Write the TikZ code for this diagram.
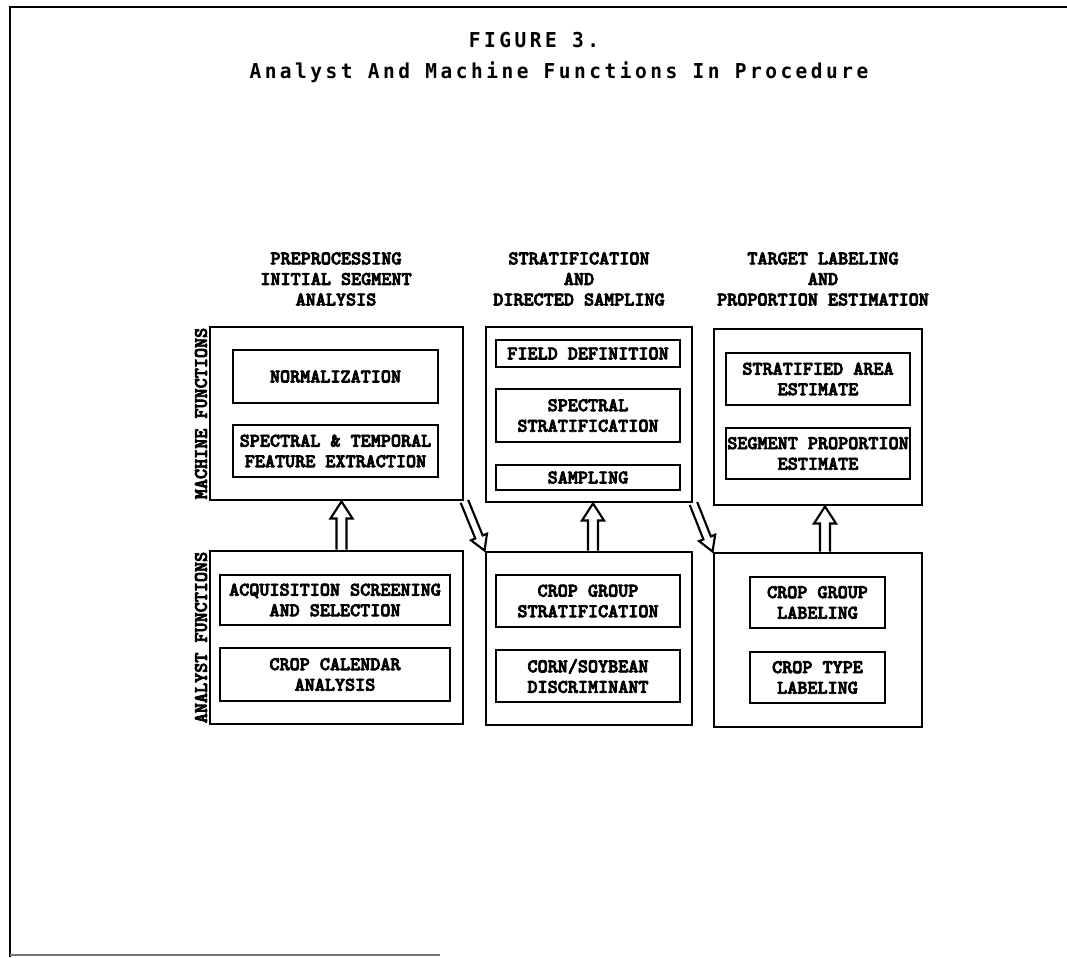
\documentclass[tikz,border=0pt]{standalone}
\usepackage{fontspec}
\usetikzlibrary{calc}
\newfontfamily\boxfontfam[FakeBold=4]{Latin Modern Mono Light}
\newfontfamily\titlefontfam[FakeStretch=0.95,LetterSpace=17]{DejaVu Sans Mono}
\newcommand\hollowarrow[6]{%
  \coordinate (#3) at ($(#2)!#6!(#1)$);
  \draw[hollow] ($(#1)!#4!90:(#2)$) -- ($(#3)!#4!90:(#2)$) -- ($(#3)!#5!90:(#2)$)
    -- (#2) -- ($(#3)!#5!-90:(#2)$) -- ($(#3)!#4!-90:(#2)$) -- ($(#1)!#4!-90:(#2)$);}
\begin{document}
\begin{tikzpicture}[x=0.75pt,y=-0.75pt,
  sz/.style 2 args={minimum width=#1*0.75pt, minimum height=#2*0.75pt},
  bfnt/.style={font=\boxfontfam\bfseries\fontsize{14.4pt}{15.4pt}\selectfont},
  obox/.style={draw, line width=2.2pt, inner sep=0pt},
  ibox/.style={draw, line width=2pt, inner sep=0pt, align=center, bfnt},
  head/.style={inner sep=0pt, align=center, bfnt},
  side/.style={inner sep=0pt, rotate=90, bfnt},
  ttl/.style={inner sep=0pt, anchor=base, font=\titlefontfam\bfseries\fontsize{15.4pt}{18pt}\selectfont},
  hollow/.style={draw, line width=1.6pt, fill=white, line join=miter},
  frame/.style={line width=2.2pt}]
\useasboundingbox (0,0) rectangle (1067,957);
% frame
\draw[frame] (10,957) -- (10,7) -- (1067,7);
\draw[line width=1.5pt, black!55] (10,955) -- (440,955);
% title
\node[ttl] (t1) at (534,47) {FIGURE 3.};
\node[ttl] (t2) at (559,78) {Analyst And Machine Functions In Procedure};
% headings
\node[head] (h1) at (336,279) {PREPROCESSING\\INITIAL SEGMENT\\ANALYSIS};
\node[head] (h2) at (579,279) {STRATIFICATION\\AND\\DIRECTED SAMPLING};
\node[head] (h3) at (823,279) {TARGET LABELING\\AND\\PROPORTION ESTIMATION};
% side labels
\node[side] (sm) at (201,413.5) {MACHINE FUNCTIONS};
\node[side] (sa) at (201,637.5) {ANALYST FUNCTIONS};
% outer boxes
\node[obox, sz={253}{173}] (m1) at (336.5,413.5) {};
\node[obox, sz={253}{173}] (a1) at (336.5,637.5) {};
\node[obox, sz={206}{175}] (m2) at (589,414.5) {};
\node[obox, sz={206}{173}] (a2) at (589,638.5) {};
\node[obox, sz={208}{176}] (m3) at (818,417) {};
\node[obox, sz={208}{174}] (a3) at (818,640) {};
% inner boxes
\node[ibox, sz={205}{53}] (n1) at (335.5,376.5) {NORMALIZATION};
\node[ibox, sz={205}{52}] (n2) at (335.5,451) {SPECTRAL \& TEMPORAL\\FEATURE EXTRACTION};
\node[ibox, sz={230}{50}] (b1) at (335,600) {ACQUISITION SCREENING\\AND SELECTION};
\node[ibox, sz={230}{53}] (b2) at (335,674.5) {CROP CALENDAR\\ANALYSIS};
\node[ibox, sz={184}{27}] (n3) at (588,353.5) {FIELD DEFINITION};
\node[ibox, sz={184}{53}] (n4) at (588,415.5) {SPECTRAL\\STRATIFICATION};
\node[ibox, sz={184}{25}] (n5) at (588,477.5) {SAMPLING};
\node[ibox, sz={184}{52}] (b3) at (588,601) {CROP GROUP\\STRATIFICATION};
\node[ibox, sz={184}{52}] (b4) at (588,676) {CORN/SOYBEAN\\DISCRIMINANT};
\node[ibox, sz={184}{52}] (n6) at (818,379) {STRATIFIED AREA\\ESTIMATE};
\node[ibox, sz={184}{51}] (n7) at (818,453.5) {SEGMENT PROPORTION\\ESTIMATE};
\node[ibox, sz={135}{51}] (b5) at (817.5,602.5) {CROP GROUP\\LABELING};
\node[ibox, sz={135}{51}] (b6) at (817.5,677.5) {CROP TYPE\\LABELING};
% vertical hollow arrows
\coordinate (u1s) at ($(a1.north)+(5,0)$);
\coordinate (u1e) at ($(m1.south)+(5,0)$);
\coordinate (u2s) at ($(a2.north)+(4,0)$);
\coordinate (u2e) at ($(m2.south)+(4,0)$);
\coordinate (u3s) at ($(a3.north)+(7,0)$);
\coordinate (u3e) at ($(m3.south)+(7,0)$);
\hollowarrow{u1s}{u1e}{u1h}{3.75pt}{8.25pt}{12.75pt}
\hollowarrow{u2s}{u2e}{u2h}{3.75pt}{8.25pt}{12.75pt}
\hollowarrow{u3s}{u3e}{u3h}{3.75pt}{8.25pt}{12.75pt}
% diagonal hollow arrows
\hollowarrow{m1.south east}{a2.north west}{d1h}{3pt}{6.5pt}{11pt}
\hollowarrow{m2.south east}{a3.north west}{d2h}{3pt}{6.5pt}{11pt}
\end{tikzpicture}
\end{document}
